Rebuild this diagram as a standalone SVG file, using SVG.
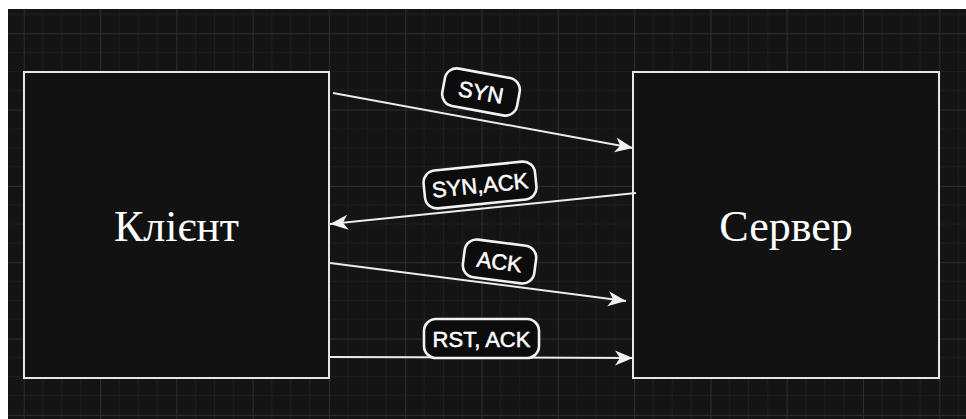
<svg xmlns="http://www.w3.org/2000/svg" width="966" height="419" viewBox="0 0 966 419">
  <style>
    .node { fill: #121212; stroke: #e6e6e6; stroke-width: 2; }
    .title { font-family: "Liberation Serif", "Times New Roman", serif; font-size: 44px; fill: #ffffff; text-anchor: middle; }
    .edge { stroke: #ececec; stroke-width: 2; fill: none; marker-end: url(#arrow); }
    .tag { fill: #0c0c0c; stroke: #f2f2f2; stroke-width: 2.6; }
    .tag-text { font-family: "Liberation Sans", Arial, sans-serif; font-size: 22px; fill: #ffffff; stroke: #ffffff; stroke-width: 0.5; text-anchor: middle; }
  </style>
  <defs>
    <marker id="arrow" viewBox="-19 -9 20 18" refX="0" refY="0" markerWidth="20" markerHeight="18" markerUnits="userSpaceOnUse" orient="auto">
      <path d="M -18 -7.5 L 0 0 L -18 7.5 L -13 0 Z" fill="#f2f2f2"/>
    </marker>
    <pattern id="grid" x="23.7" y="33.3" width="76.3" height="76.3" patternUnits="userSpaceOnUse">
      <path d="M 19.075 0 V 76.3 M 38.15 0 V 76.3 M 57.225 0 V 76.3 M 0 19.075 H 76.3 M 0 38.15 H 76.3 M 0 57.225 H 76.3" stroke="#1f1f1f" stroke-width="1"/>
      <path d="M 0.5 0 V 76.3 M 0 0.5 H 76.3" stroke="#2e2e2e" stroke-width="1"/>
    </pattern>
  </defs>

  <!-- canvas: white margin, dark background with grid -->
  <rect x="0" y="0" width="966" height="419" fill="#ffffff"/>
  <rect x="8" y="9" width="958" height="410" fill="#141414"/>
  <rect x="8" y="9" width="958" height="410" fill="url(#grid)"/>

  <g id="client">
    <rect class="node" x="24" y="72" width="305" height="306"/>
    <text class="title" x="176.5" y="241">Клієнт</text>
  </g>

  <g id="server">
    <rect class="node" x="633" y="72" width="306" height="306"/>
    <text class="title" x="786" y="241">Сервер</text>
  </g>

  <g id="connectors">
    <line class="edge" x1="333" y1="93" x2="633" y2="148"/>
    <line class="edge" x1="636" y1="193" x2="330" y2="224"/>
    <line class="edge" x1="330" y1="263" x2="626" y2="301"/>
    <line class="edge" x1="330" y1="357" x2="633" y2="358"/>

    <g id="label-syn" transform="translate(481,92) rotate(10.4)">
      <rect class="tag" x="-38" y="-19" width="76" height="38" rx="12"/>
      <text class="tag-text" x="0" y="8">SYN</text>
    </g>
    <g id="label-synack" transform="translate(480,185) rotate(-5.8)">
      <rect class="tag" x="-56" y="-19" width="112" height="38" rx="12"/>
      <text class="tag-text" x="0" y="8">SYN,ACK</text>
    </g>
    <g id="label-ack" transform="translate(499.5,261.5) rotate(7.3)">
      <rect class="tag" x="-36" y="-19" width="72" height="38" rx="12"/>
      <text class="tag-text" x="0" y="8">ACK</text>
    </g>
    <g id="label-rstack" transform="translate(481.5,338.5)">
      <rect class="tag" x="-57.5" y="-19.5" width="115" height="39" rx="12"/>
      <text class="tag-text" x="0" y="8">RST, ACK</text>
    </g>
  </g>
</svg>
